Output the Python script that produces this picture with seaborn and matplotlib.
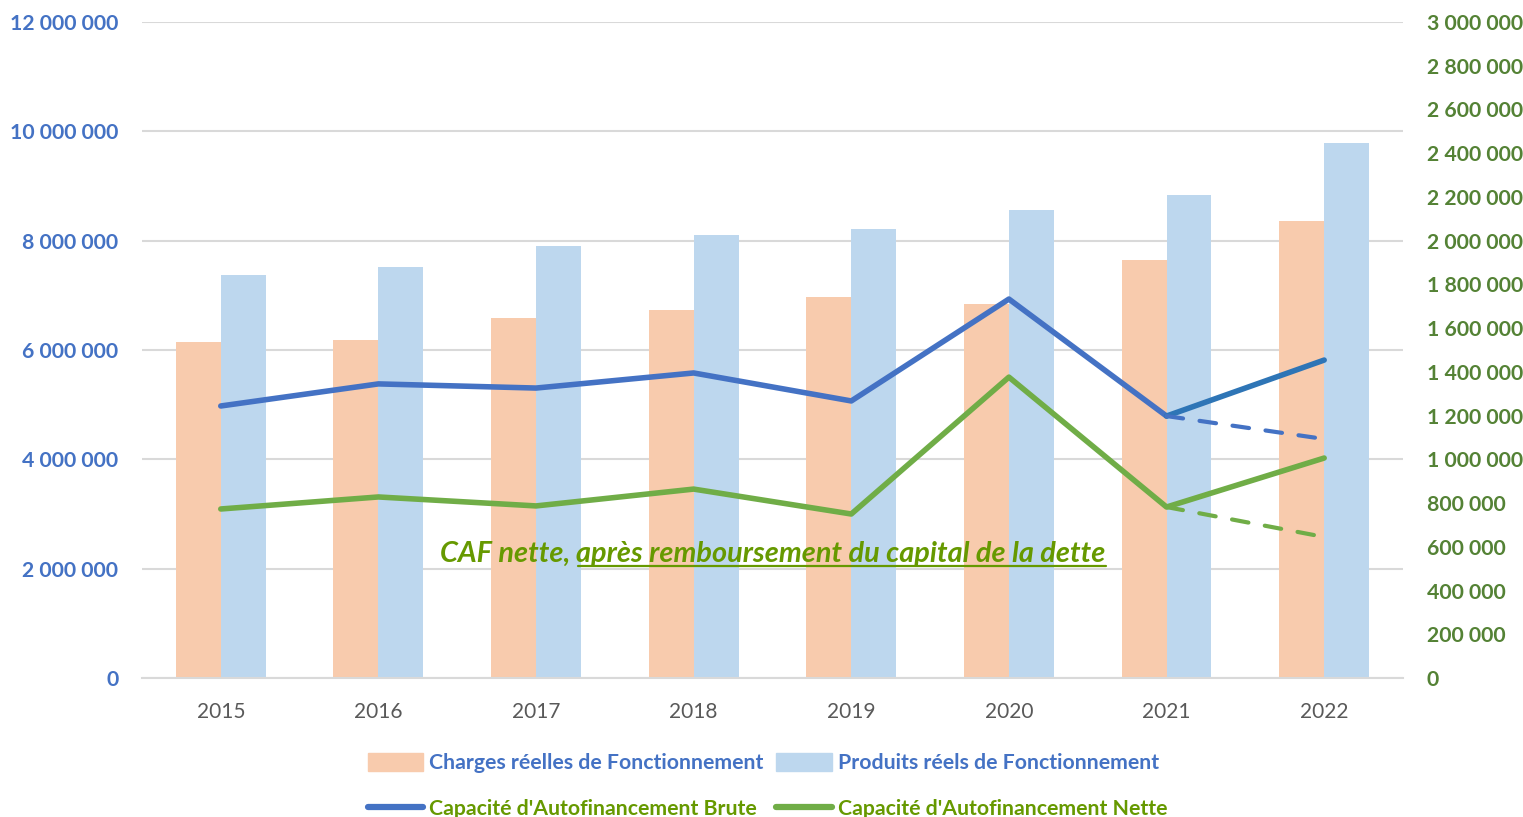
import pandas as pd
import numpy as np
import matplotlib.pyplot as plt
import seaborn as sns
from matplotlib.patches import Patch
from matplotlib.lines import Line2D

years = ["2015", "2016", "2017", "2018", "2019", "2020", "2021", "2022"]
charges = [6150000, 6180000, 6590000, 6730000, 6970000, 6840000, 7650000, 8360000]
produits = [7370000, 7520000, 7900000, 8100000, 8210000, 8560000, 8830000, 9790000]
caf_brute = [1244000, 1345000, 1326000, 1395000, 1267000, 1733000, 1198000, 1454000]
caf_nette = [773000, 828000, 787000, 864000, 750000, 1376000, 782000, 1006000]
# 2022 alternative (dashed) values
caf_brute_alt = 1093000
caf_nette_alt = 645000

left_ticks = np.arange(0, 12000001, 2000000)
right_ticks = np.arange(0, 3000001, 200000)

c_orange = "#F8CBAD"
c_lblue = "#BDD7EE"
c_blue = "#4472C4"
c_blue2 = "#2E75B6"
c_green = "#70AD47"
c_dkgreen = "#548235"
c_olive = "#669900"

sns.set_style("white")
plt.rcParams['font.family'] = ['Lato', 'DejaVu Sans']

def fmt(v):
    return f"{int(v):,}".replace(",", " ")

bars = pd.DataFrame({
    "year": years * 2,
    "value": charges + produits,
    "serie": ["Charges réelles de Fonctionnement"] * 8 + ["Produits réels de Fonctionnement"] * 8,
})

fig = plt.figure(figsize=(15.23, 8.17), dpi=100)
ax = fig.add_axes([0.0932, 0.1701, 0.828, 0.803])

sns.barplot(data=bars, x="year", y="value", hue="serie", palette=[c_orange, c_lblue],
            width=0.57, ax=ax, saturation=1, legend=False, linewidth=0)
ax.set_ylim(0, 12000000)
ax.set_xlim(-0.5, 7.5)
ax.set_yticks(left_ticks)
ax.set_yticklabels([fmt(v) for v in left_ticks], color=c_blue, fontweight="bold", fontsize=15.3)
ax.tick_params(axis="y", length=0, pad=17)
ax.tick_params(axis="x", length=0, pad=17, labelsize=15, labelcolor="#595959")
ax.set_xlabel("")
ax.set_ylabel("")
ax.grid(axis="y", color="#D9D9D9", lw=1.5)
ax.set_axisbelow(True)
for s in ["top", "right", "left"]:
    ax.spines[s].set_visible(False)
ax.spines["bottom"].set_color("#D9D9D9")
ax.spines["bottom"].set_linewidth(1.5)

ax2 = ax.twinx()
ax2.set_ylim(0, 3000000)
x = np.arange(len(years))
sns.lineplot(x=x[:7], y=caf_brute[:7], color=c_blue, lw=4, ax=ax2, solid_capstyle="round")
sns.lineplot(x=x[6:], y=caf_brute[6:], color=c_blue2, lw=4, ax=ax2, solid_capstyle="round")
sns.lineplot(x=x[6:], y=[caf_brute[6], caf_brute_alt], color=c_blue, lw=3, ax=ax2,
             linestyle=(0, (4, 4)), dash_capstyle="round")
sns.lineplot(x=x, y=caf_nette, color=c_green, lw=4, ax=ax2, solid_capstyle="round")
sns.lineplot(x=x[6:], y=[caf_nette[6], caf_nette_alt], color=c_green, lw=3, ax=ax2,
             linestyle=(0, (4, 4)), dash_capstyle="round")
ax2.set_xlim(-0.5, 7.5)
ax2.set_yticks(right_ticks)
ax2.set_yticklabels([fmt(v) for v in right_ticks], color=c_dkgreen, fontweight="bold", fontsize=15.3)
ax2.tick_params(axis="y", length=0, pad=17)
for s in ["top", "right", "left", "bottom"]:
    ax2.spines[s].set_visible(False)

# annotation with partial underline
ty = 2130000
t1 = ax.text(1.39, ty, "CAF nette, ", color=c_olive, fontsize=20.8, fontweight="bold",
             fontstyle="italic", va="baseline", ha="left")
fig.canvas.draw()
r = fig.canvas.get_renderer()
bb1 = t1.get_window_extent(r)
x2 = ax.transData.inverted().transform((bb1.x1, bb1.y0))[0]
t2 = ax.text(x2, ty, "après remboursement du capital de la dette", color=c_olive,
             fontsize=20.8, fontweight="bold", fontstyle="italic", va="baseline", ha="left")
fig.canvas.draw()
bb2 = t2.get_window_extent(r)
base = ax.transData.transform((0, ty))[1]
uy = base - 4
inv = fig.transFigure.inverted()
p0 = inv.transform((bb2.x0 + 2, uy))
p1 = inv.transform((bb2.x1, uy))
fig.add_artist(plt.Line2D([p0[0], p1[0]], [p0[1], p1[1]], color=c_olive, lw=1.6))

# legend
handles = [Patch(color=c_orange), Line2D([], [], color=c_blue, lw=4.5),
           Patch(color=c_lblue), Line2D([], [], color=c_green, lw=4.5)]
labels = ["Charges réelles de Fonctionnement", "Capacité d'Autofinancement Brute",
          "Produits réels de Fonctionnement", "Capacité d'Autofinancement Nette"]
leg = fig.legend(handles, labels, ncol=2, loc="lower center", bbox_to_anchor=(0.504, -0.026),
                 frameon=False, prop={"weight": "bold", "size": 15.3}, handlelength=2.6,
                 handleheight=0.9, handletextpad=0.3, columnspacing=0.6, labelspacing=1.2)
for txt, col in zip(leg.get_texts(), [c_blue, c_olive, c_blue, c_olive]):
    txt.set_color(col)

plt.savefig("out.png", dpi=100)
